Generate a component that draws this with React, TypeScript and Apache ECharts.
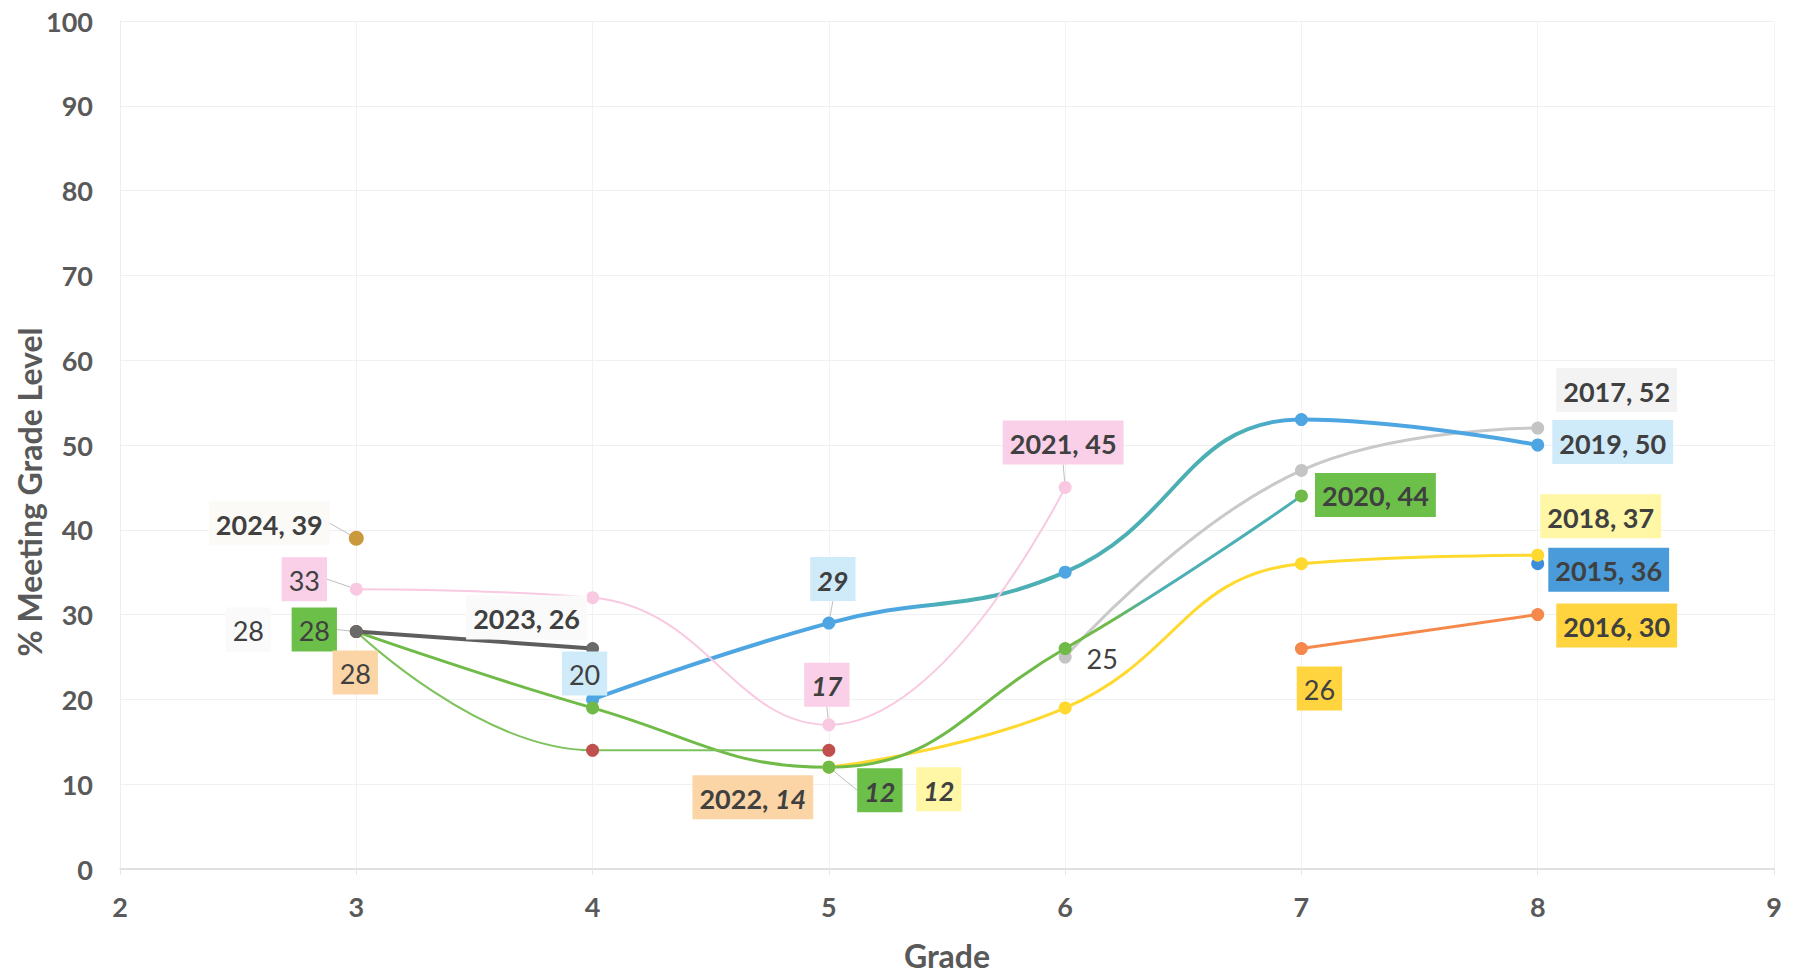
import React, { useEffect, useRef } from "react";
import * as echarts from "echarts";

// ---- data ----
const X_TICKS = [2, 3, 4, 5, 6, 7, 8, 9];
const Y_TICKS = [0, 10, 20, 30, 40, 50, 60, 70, 80, 90, 100];

const GRADES_2015 = [8];
const VALUES_2015 = [36];
const GRADES_2016 = [7, 8];
const VALUES_2016 = [26, 30];
const GRADES_2017 = [6, 7, 8];
const VALUES_2017 = [25, 47, 52];
const GRADES_2018 = [5, 6, 7, 8];
const VALUES_2018 = [12, 19, 36, 37];
const GRADES_2019 = [4, 5, 6, 7, 8];
const VALUES_2019 = [20, 29, 35, 53, 50];
const GRADES_2020 = [3, 4, 5, 6, 7];
const VALUES_2020 = [28, 19, 12, 26, 44];
const GRADES_2021 = [3, 4, 5, 6];
const VALUES_2021 = [33, 32, 17, 45];
const GRADES_2022 = [3, 4, 5];
const VALUES_2022 = [28, 14, 14];
const GRADES_2023 = [3, 4];
const VALUES_2023 = [28, 26];
const GRADES_2024 = [3];
const VALUES_2024 = [39];

const X_TITLE = "Grade";
const Y_TITLE = "% Meeting Grade Level";

const FONT = "Lato, 'Open Sans', sans-serif";
const TEXT = "#404040";

type Lbl = {
  i: number;
  kind: "name" | "plain" | "bi";
  bg: string;
  dx: number;
  dy: number;
  guide?: boolean;
};

type Cohort = {
  year: string;
  grades: number[];
  values: number[];
  color: any;
  symbolColor: string;
  width: number;
  labels: Lbl[];
};

const blueTeal = new echarts.graphic.LinearGradient(0, 0, 1, 0, [
  { offset: 0, color: "#4DA6E2" },
  { offset: 0.33, color: "#4DA6E2" },
  { offset: 0.37, color: "#4BAFB4" },
  { offset: 0.69, color: "#4BAFB4" },
  { offset: 0.74, color: "#4DA6E2" },
  { offset: 1, color: "#4DA6E2" },
]);
const greenTeal = new echarts.graphic.LinearGradient(0, 0, 1, 0, [
  { offset: 0, color: "#70BA48" },
  { offset: 0.8, color: "#70BA48" },
  { offset: 0.84, color: "#4BAFB4" },
  { offset: 1, color: "#4BAFB4" },
]);

const COHORTS: Cohort[] = [
  {
    year: "2015", grades: GRADES_2015, values: VALUES_2015, color: "#3C8DDA", symbolColor: "#3C8DDA", width: 3,
    labels: [{ i: 0, kind: "name", bg: "#4A9BD9", dx: 71, dy: 6 }],
  },
  {
    year: "2016", grades: GRADES_2016, values: VALUES_2016, color: "#F5884B", symbolColor: "#F5884B", width: 3,
    labels: [
      { i: 0, kind: "plain", bg: "#FFD43F", dx: 18, dy: 40 },
      { i: 1, kind: "name", bg: "#FFD43F", dx: 79, dy: 11 },
    ],
  },
  {
    year: "2017", grades: GRADES_2017, values: VALUES_2017, color: "#C9C9C9", symbolColor: "#C4C4C4", width: 3,
    labels: [
      { i: 0, kind: "plain", bg: "transparent", dx: 37, dy: 0 },
      { i: 2, kind: "name", bg: "#F3F3F3", dx: 79, dy: -38 },
    ],
  },
  {
    year: "2018", grades: GRADES_2018, values: VALUES_2018, color: "#FFD92E", symbolColor: "#FFD92E", width: 3,
    labels: [
      { i: 0, kind: "bi", bg: "#FFF6A6", dx: 110, dy: 22 },
      { i: 3, kind: "name", bg: "#FFF6A6", dx: 63, dy: -39 },
    ],
  },
  {
    year: "2019", grades: GRADES_2019, values: VALUES_2019, color: blueTeal, symbolColor: "#4DA6E2", width: 4,
    labels: [
      { i: 0, kind: "plain", bg: "#CFEBFA", dx: -8, dy: -26 },
      { i: 1, kind: "bi", bg: "#CFEBFA", dx: 4, dy: -44, guide: true },
      { i: 4, kind: "name", bg: "#CFEBFA", dx: 75, dy: -3 },
    ],
  },
  {
    year: "2020", grades: GRADES_2020, values: VALUES_2020, color: greenTeal, symbolColor: "#70BA48", width: 3,
    labels: [
      { i: 0, kind: "plain", bg: "#6CBF48", dx: -42, dy: -2, guide: true },
      { i: 2, kind: "bi", bg: "#6CBF48", dx: 51, dy: 23, guide: true },
      { i: 4, kind: "name", bg: "#6CBF48", dx: 74, dy: -1 },
    ],
  },
  {
    year: "2021", grades: GRADES_2021, values: VALUES_2021, color: "#F8C9E1", symbolColor: "#F8C9E1", width: 2,
    labels: [
      { i: 0, kind: "plain", bg: "#F9D0E8", dx: -52, dy: -10, guide: true },
      { i: 2, kind: "bi", bg: "#F9D0E8", dx: -2, dy: -40, guide: true },
      { i: 3, kind: "name", bg: "#F9D0E8", dx: -2, dy: -45, guide: true },
    ],
  },
  {
    year: "2022", grades: GRADES_2022, values: VALUES_2022, color: "#7DC25B", symbolColor: "#C0504D", width: 2,
    labels: [
      { i: 0, kind: "plain", bg: "#FBD5A6", dx: -1, dy: 41 },
      { i: 2, kind: "name", bg: "#FBD5A6", dx: -76, dy: 47 },
    ],
  },
  {
    year: "2023", grades: GRADES_2023, values: VALUES_2023, color: "#5E5E5E", symbolColor: "#6A6A6A", width: 4,
    labels: [
      { i: 0, kind: "plain", bg: "#FAFAFA", dx: -108, dy: -2 },
      { i: 1, kind: "name", bg: "#FAFAFA", dx: -66, dy: -31 },
    ],
  },
  {
    year: "2024", grades: GRADES_2024, values: VALUES_2024, color: "#C99A3B", symbolColor: "#C99A3B", width: 3,
    labels: [{ i: 0, kind: "name", bg: "#FBFAF6", dx: -87, dy: -15, guide: true }],
  },
];

const LABEL_SIZE = 27;

function buildSeries(c: Cohort) {
  const data = c.grades.map((g, i) => {
    const spec = c.labels.find((l) => l.i === i);
    const item: any = { value: [g, c.values[i]] };
    if (!spec) {
      item.label = { show: false };
      return item;
    }
    const v = c.values[i];
    let formatter: string;
    if (spec.kind === "name") {
      formatter = c.year === "2022" ? `{b|${c.year}, }{bi|${v}}` : `{b|${c.year}, ${v}}`;
    } else if (spec.kind === "bi") {
      formatter = `{bi|${v}}`;
    } else {
      formatter = `{p|${v}}`;
    }
    item.label = {
      show: true,
      position: "inside",
      formatter,
      backgroundColor: spec.bg,
      padding: [8, 7, 6, 7],
    };
    item.labelLine = { show: !!spec.guide, lineStyle: { color: "#BFBFBF", width: 1 } };
    return item;
  });
  const offsets: Record<number, Lbl> = {};
  c.labels.forEach((l) => (offsets[l.i] = l));
  return {
    type: "line",
    name: c.year,
    data,
    smooth: 0.45,
    symbol: "circle",
    symbolSize: c.year === "2024" ? 15 : 13,
    showSymbol: true,
    lineStyle: { color: c.color, width: c.width },
    itemStyle: { color: c.symbolColor },
    label: {
      show: true,
      rich: {
        b: { fontFamily: FONT, fontSize: LABEL_SIZE, fontWeight: "bold", color: TEXT, lineHeight: 30 },
        bi: { fontFamily: FONT, fontSize: LABEL_SIZE, fontWeight: "bold", fontStyle: "italic", color: TEXT, lineHeight: 30 },
        p: { fontFamily: FONT, fontSize: LABEL_SIZE, fontWeight: "normal", color: TEXT, lineHeight: 30 },
      },
    },
    labelLine: { show: false, lineStyle: { color: "#BFBFBF", width: 1 } },
    labelLayout: (params: any) => {
      const o = offsets[params.dataIndex];
      return o ? { dx: o.dx, dy: o.dy } : {};
    },
    emphasis: { disabled: true },
    z: 3,
  };
}

export default function App() {
  const ref = useRef<HTMLDivElement>(null);
  useEffect(() => {
    document.body.style.margin = "0";
    document.body.style.overflow = "hidden";
    if (!ref.current) return;
    const chart = echarts.init(ref.current, undefined, { renderer: "svg" });
    const axisLabelStyle = { fontFamily: FONT, fontSize: 27, fontWeight: "bold" as const, color: "#595959" };
    chart.setOption({
      animation: false,
      backgroundColor: "#ffffff",
      grid: { left: 120, right: 27, top: 21, bottom: 105, containLabel: false, outerBoundsMode: "none" },
      xAxis: {
        type: "value",
        min: X_TICKS[0],
        max: X_TICKS[X_TICKS.length - 1],
        interval: 1,
        name: X_TITLE,
        nameLocation: "middle",
        nameGap: 70,
        nameTextStyle: { fontFamily: FONT, fontSize: 32, fontWeight: "bold", color: "#595959" },
        axisLine: { show: true, lineStyle: { color: "#D9D9D9", width: 1.5 } },
        axisTick: { show: true, length: 6, lineStyle: { color: "#E6E6E6" } },
        axisLabel: { ...axisLabelStyle, margin: 24 },
        splitLine: { show: true, lineStyle: { color: "#F2F2F2", width: 1 } },
      },
      yAxis: {
        type: "value",
        min: Y_TICKS[0],
        max: Y_TICKS[Y_TICKS.length - 1],
        interval: 10,
        axisLine: { show: true, lineStyle: { color: "#EDEDED", width: 1 } },
        axisTick: { show: false },
        axisLabel: { ...axisLabelStyle, margin: 27 },
        splitLine: { show: true, lineStyle: { color: "#F0F0F0", width: 1 } },
      },
      graphic: [
        {
          type: "text",
          x: 29,
          y: 492,
          rotation: Math.PI / 2,
          style: {
            text: Y_TITLE,
            fontFamily: FONT,
            fontSize: 32,
            fontWeight: "bold",
            fill: "#595959",
            align: "center",
            verticalAlign: "middle",
          },
        },
      ],
      series: COHORTS.map(buildSeries),
    });
    return () => chart.dispose();
  }, []);
  return <div ref={ref} style={{ width: 1801, height: 974 }} />;
}
